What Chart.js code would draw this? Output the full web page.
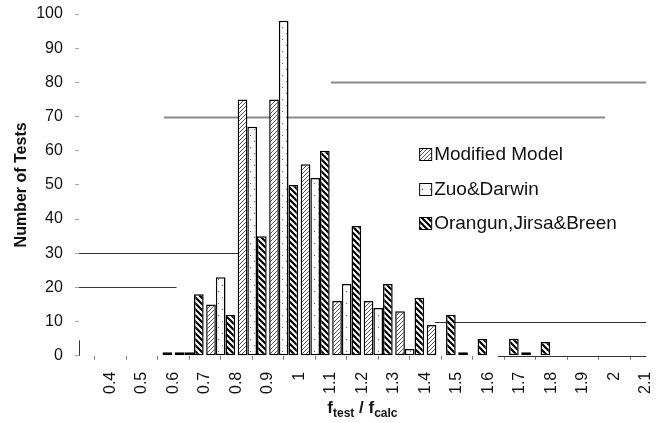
<!DOCTYPE html>
<html>
<head>
<meta charset="utf-8">
<script src="https://cdn.jsdelivr.net/npm/chart.js@4.4.0/dist/chart.umd.min.js"></script>
<style>
  html, body { margin: 0; padding: 0; background: #fff; }
  #wrap { width: 666px; height: 423px; }
</style>
</head>
<body>
<div id="wrap"><canvas id="chart" width="666" height="423"></canvas></div>
<script>
// Lower edge of each 0.1 wide bin of f_test / f_calc
const binLower = [0.4, 0.5, 0.6, 0.7, 0.8, 0.9, 1.0, 1.1, 1.2, 1.3, 1.4, 1.5, 1.6, 1.7, 1.8, 1.9, 2.0];

// Number of tests per bin, one array per model
const modifiedModel = [0, 0, 1, 15, 75, 75, 56, 16, 16, 13, 9, 1, 0, 1, 0, 0, 0];
const zuoDarwin     = [0, 0, 1, 23, 67, 98, 52, 21, 14, 2, 0, 0, 0, 0, 0, 0, 0];
const orangun       = [0, 1, 18, 12, 35, 50, 60, 38, 21, 17, 12, 5, 5, 4, 0, 0, 0];

const seriesNames = ['Modified Model', 'Zuo&Darwin', 'Orangun,Jirsa&Breen'];

// x tick labels sit on the bin edges (the first edge, 0.3, has none)
const xTickLabels = ['0.4', '0.5', '0.6', '0.7', '0.8', '0.9', '1', '1.1', '1.2', '1.3',
                     '1.4', '1.5', '1.6', '1.7', '1.8', '1.9', '2', '2.1'];
const yTickLabels = ['0', '10', '20', '30', '40', '50', '60', '70', '80', '90', '100'];

const FONT = "'Liberation Sans', Arial, sans-serif";

// Leftover pieces of the scanned gridlines, in axis units
const gridStubs = [
    { y: 80, from: 1.1, to: 2.1, color: '#8a8a8a', width: 2 },
    { y: 70, from: 0.57, to: 1.97, color: '#8a8a8a', width: 2 },
    { y: 30, from: 0.3, to: 0.81, color: '#333', width: 1 },
    { y: 20, from: 0.3, to: 0.61, color: '#333', width: 1 },
    { y: 10, from: 1.43, to: 2.1, color: '#333', width: 1 },
    { y: 0, from: 1.63, to: 2.1, color: '#333', width: 1.2 }
];

/**
 * Build a fill pattern like the ones in the printed figure
 * @param {string} kind - 'fine', 'dots' or 'bold'
 * @returns {CanvasPattern}
 */
function makePattern(kind) {
    const c = document.createElement('canvas');
    const ctx = c.getContext('2d');
    if (kind === 'fine') {
        c.width = 4; c.height = 4;
        ctx.fillStyle = '#fff';
        ctx.fillRect(0, 0, 4, 4);
        ctx.strokeStyle = '#555';
        ctx.lineWidth = 1;
        ctx.beginPath();
        ctx.moveTo(0, 4); ctx.lineTo(4, 0);
        ctx.moveTo(-1, 1); ctx.lineTo(1, -1);
        ctx.moveTo(3, 5); ctx.lineTo(5, 3);
        ctx.stroke();
    } else if (kind === 'dots') {
        c.width = 8; c.height = 12;
        ctx.fillStyle = '#fff';
        ctx.fillRect(0, 0, 8, 12);
        ctx.fillStyle = '#666';
        ctx.fillRect(2, 3, 1, 1);
        ctx.fillRect(6, 9, 1, 1);
    } else {
        c.width = 6; c.height = 6;
        ctx.fillStyle = '#fff';
        ctx.fillRect(0, 0, 6, 6);
        ctx.strokeStyle = '#000';
        ctx.lineWidth = 2.2;
        ctx.beginPath();
        ctx.moveTo(0, 0); ctx.lineTo(6, 6);
        ctx.moveTo(-3, 3); ctx.lineTo(3, 9);
        ctx.moveTo(3, -3); ctx.lineTo(9, 3);
        ctx.stroke();
    }
    return ctx.createPattern(c, 'repeat');
}

const fills = [makePattern('fine'), makePattern('dots'), makePattern('bold')];

const toPoints = (values) => values.map((v, i) => ({ x: binLower[i] + 0.05, y: v }));

// Partial gridlines and axis remnants, drawn under the bars
const stubPlugin = {
    id: 'gridStubs',
    beforeDatasetsDraw(chart) {
        const { ctx, scales: { x, y } } = chart;
        ctx.save();
        gridStubs.forEach(s => {
            const py = Math.round(y.getPixelForValue(s.y)) + 0.5;
            ctx.strokeStyle = s.color;
            ctx.lineWidth = s.width;
            ctx.beginPath();
            ctx.moveTo(x.getPixelForValue(s.from), py);
            ctx.lineTo(x.getPixelForValue(s.to), py);
            ctx.stroke();
        });
        // short stub of the value axis near zero
        const px = Math.round(x.getPixelForValue(0.3)) + 0.5;
        ctx.strokeStyle = '#333';
        ctx.lineWidth = 1;
        ctx.beginPath();
        ctx.moveTo(px, y.getPixelForValue(0));
        ctx.lineTo(px, y.getPixelForValue(4.5));
        ctx.stroke();
        ctx.restore();
    }
};

// Legend inside the plot and the subscripted x axis title
const annotatePlugin = {
    id: 'annotate',
    afterDraw(chart) {
        const { ctx, chartArea, scales: { x, y } } = chart;
        ctx.save();

        // legend
        const left = x.getPixelForValue(1.38);
        let cy = y.getPixelForValue(59);
        const box = 12;
        ctx.font = `19px ${FONT}`;
        ctx.textBaseline = 'middle';
        ctx.textAlign = 'left';
        seriesNames.forEach((name, i) => {
            ctx.fillStyle = fills[i];
            ctx.fillRect(left, cy - box / 2, box, box);
            ctx.strokeStyle = '#000';
            ctx.lineWidth = 1;
            ctx.strokeRect(left + 0.5, Math.round(cy - box / 2) + 0.5, box, box);
            ctx.fillStyle = '#111';
            ctx.fillText(name, left + box + 3, cy + 1);
            cy += 34.5;
        });

        // x axis title: f_test / f_calc
        const parts = [
            { t: 'f', size: 17, dy: 0 },
            { t: 'test', size: 12, dy: 4 },
            { t: ' / f', size: 17, dy: 0 },
            { t: 'calc', size: 12, dy: 4 }
        ];
        let total = 0;
        parts.forEach(p => {
            ctx.font = `bold ${p.size}px ${FONT}`;
            p.w = ctx.measureText(p.t).width;
            total += p.w;
        });
        let tx = (chartArea.left + chartArea.right) / 2 - total / 2;
        const base = chart.height - 10;
        ctx.textBaseline = 'alphabetic';
        ctx.fillStyle = '#111';
        parts.forEach(p => {
            ctx.font = `bold ${p.size}px ${FONT}`;
            ctx.fillText(p.t, tx, base + p.dy);
            tx += p.w;
        });
        ctx.restore();
    }
};

// let the plot run up to the outer padding (no extra room for edge labels)
const noEdgePadding = (scale) => {
    scale.paddingLeft = 0;
    scale.paddingRight = 0;
    scale.paddingTop = 0;
    scale.paddingBottom = 0;
};

const datasets = [modifiedModel, zuoDarwin, orangun].map((values, i) => ({
    label: seriesNames[i],
    data: toPoints(values),
    backgroundColor: fills[i],
    borderColor: '#000',
    borderWidth: 1.5,
    borderSkipped: false,
    categoryPercentage: 0.92,
    barPercentage: 1.0
}));

new Chart(document.getElementById('chart').getContext('2d'), {
    type: 'bar',
    data: { datasets },
    options: {
        responsive: false,
        animation: false,
        layout: { padding: { left: 8, right: 20, top: 14, bottom: 17 } },
        plugins: {
            legend: { display: false },
            tooltip: { enabled: false }
        },
        scales: {
            x: {
                type: 'linear',
                min: 0.3,
                max: 2.1,
                offset: false,
                afterFit: noEdgePadding,
                border: { display: false },
                grid: {
                    display: true,
                    drawOnChartArea: false,
                    drawTicks: true,
                    tickLength: 4,
                    tickColor: '#777'
                },
                ticks: {
                    stepSize: 0.1,
                    autoSkip: false,
                    maxRotation: 90,
                    minRotation: 90,
                    padding: 12,
                    color: '#111',
                    font: { family: FONT, size: 16 },
                    callback: (value, index) => index === 0 ? '' : xTickLabels[index - 1]
                }
            },
            y: {
                min: 0,
                max: 100,
                afterFit: noEdgePadding,
                border: { display: false },
                grid: {
                    display: true,
                    drawOnChartArea: false,
                    drawTicks: true,
                    tickLength: 4,
                    tickColor: '#aaa'
                },
                ticks: {
                    stepSize: 10,
                    padding: 12,
                    color: '#111',
                    font: { family: FONT, size: 16 },
                    callback: (value, index) => yTickLabels[index]
                },
                title: {
                    display: true,
                    text: 'Number of Tests',
                    color: '#111',
                    font: { family: FONT, size: 16, weight: 'bold' },
                    padding: { top: 4, bottom: -7 }
                }
            }
        }
    },
    plugins: [stubPlugin, annotatePlugin]
});
</script>
</body>
</html>
